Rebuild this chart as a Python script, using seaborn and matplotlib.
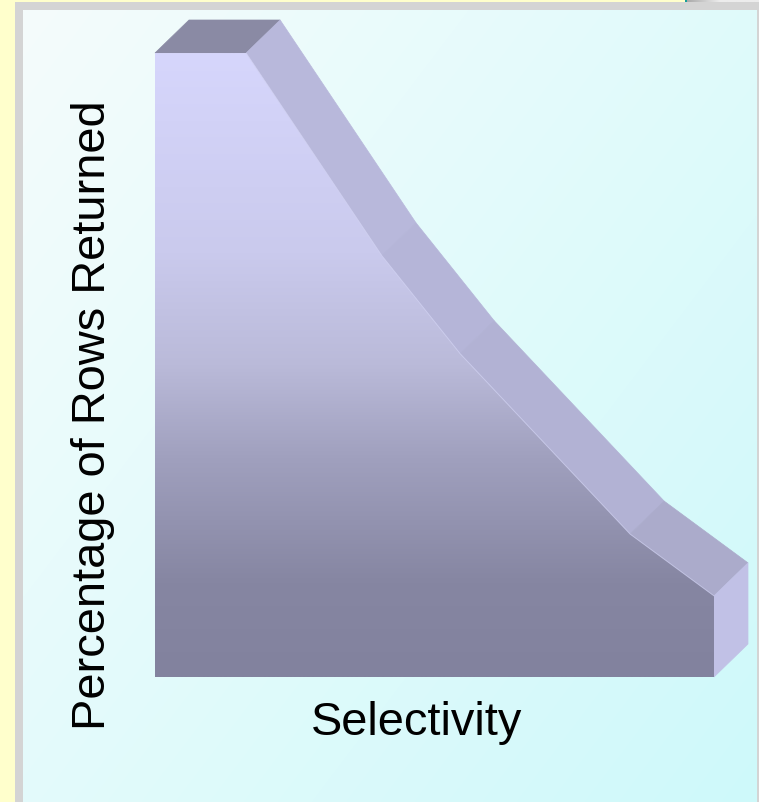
import numpy as np
import matplotlib
matplotlib.use("Agg")
import matplotlib.pyplot as plt
from matplotlib.patches import Polygon, Rectangle
from matplotlib.colors import LinearSegmentedColormap
import seaborn as sns

# Data: selectivity (x) vs. percentage of rows returned (y)
selectivity = [0, 16.3, 40.6, 54.6, 85.0, 100]
rows_returned = [100, 100, 67.5, 51.8, 22.9, 13.0]
x_label = "Selectivity"
y_label = "Percentage of Rows Returned"

W, H, DPI = 759, 803, 100
sns.set_theme(style="white")
plt.rcParams['font.family'] = ['Liberation Sans', 'DejaVu Sans']

fig = plt.figure(figsize=(W / DPI, H / DPI), dpi=DPI)
fig.patch.set_facecolor('#FFFFCC')

# ---- slide frame and panel background (pixel coordinates) ----
bg = fig.add_axes([0, 0, 1, 1], zorder=0)
bg.set_xlim(0, W)
bg.set_ylim(H, 0)
bg.axis('off')
bg.add_patch(Rectangle((15, 3), W - 15, H - 3, color='#D4D4D4', lw=0, zorder=1))
bg.add_patch(Rectangle((685, 0), 2, 3, color='#159C9C', lw=0, zorder=1))
strip = np.linspace(0, 1, 80)
s0 = np.array([170, 170, 170]) / 255
s1 = np.array([236, 236, 236]) / 255
strip_rgb = s0 + (s1 - s0) * np.clip(strip * 2.2, 0, 1)[:, None]
bg.imshow(strip_rgb[None, :, :], extent=(687, W, 3, 0), aspect='auto',
          interpolation='bilinear', zorder=2)

yy, xx = np.mgrid[0:1:300j, 0:1:300j]
t = np.clip(xx * 0.55 + yy * 0.45, 0, 1)
c0 = np.array([245, 252, 252]) / 255
c1 = np.array([206, 249, 250]) / 255
panel = c0 + (c1 - c0) * t[..., None]
bg.imshow(panel, extent=(23, 757, H, 11), aspect='auto', interpolation='bilinear', zorder=2)
bg.set_xlim(0, W)
bg.set_ylim(H, 0)

# ---- chart area ----
x0, x1, ytop, ybot = 155, 714, 54, 678
ax = fig.add_axes([x0 / W, 1 - ybot / H, (x1 - x0) / W, (ybot - ytop) / H], zorder=2)
ax.set_xlim(0, 100)
ax.set_ylim(0, 100)
ax.axis('off')

# extrusion depth (pixels right / up) expressed in data units
depth_px = np.array([34.0, 33.0])
origin = ax.transData.transform((0, 0))
ddx, ddy = ax.transData.inverted().transform(origin + depth_px)

xs = np.asarray(selectivity, float)
ys = np.asarray(rows_returned, float)

base = np.array([138, 138, 164]) / 255
lit = np.array([193, 193, 230]) / 255


def shade(dx_px, dy_px):
    ang = np.arctan2(abs(dy_px), abs(dx_px))
    return tuple(base + (lit - base) * np.sin(ang))


# sloped/top faces of each segment
pts_px = ax.transData.transform(np.column_stack([xs, ys]))
for i in range(len(xs) - 1):
    quad = [(xs[i], ys[i]), (xs[i + 1], ys[i + 1]),
            (xs[i + 1] + ddx, ys[i + 1] + ddy), (xs[i] + ddx, ys[i] + ddy)]
    d = pts_px[i + 1] - pts_px[i]
    ax.add_patch(Polygon(quad, closed=True, facecolor=shade(d[0], d[1]),
                         edgecolor=shade(d[0], d[1]), lw=0.5, clip_on=False, zorder=2))

# right end face
end = [(xs[-1], 0), (xs[-1], ys[-1]), (xs[-1] + ddx, ys[-1] + ddy), (xs[-1] + ddx, ddy)]
ax.add_patch(Polygon(end, closed=True, facecolor=shade(0, 1), edgecolor=shade(0, 1),
                     lw=0.5, clip_on=False, zorder=2))

# front face with vertical gradient
front_pts = [(xs[0], 0)] + list(zip(xs, ys)) + [(xs[-1], 0)]
front = Polygon(front_pts, closed=True, facecolor='none', edgecolor='none', transform=ax.transData)
ax.add_patch(front)
stops = [(0.0, (130, 130, 158)), (0.15, (134, 134, 162)), (0.35, (160, 160, 190)),
         (0.5, (186, 186, 217)), (0.68, (202, 202, 237)), (1.0, (214, 214, 252))]
cmap = LinearSegmentedColormap.from_list(
    "front", [(p, tuple(np.array(c) / 255)) for p, c in stops])
grad = np.linspace(0, 1, 256)[:, None]
im = ax.imshow(grad, cmap=cmap, extent=(0, 100, 0, 100), origin='lower',
               aspect='auto', interpolation='bilinear', zorder=3)
im.set_clip_path(front)

# front edge highlight
sns.lineplot(x=selectivity, y=rows_returned, ax=ax, color=(0.82, 0.82, 0.95),
             lw=0.7, alpha=0.7, zorder=4, sort=False)
ax.set_xlim(0, 100)
ax.set_ylim(0, 100)
ax.axis('off')

# axis titles
fig.text(93 / W, 1 - 415 / H, y_label, rotation=90, ha='center', va='center',
         fontsize=33.8, color='black')
fig.text(417 / W, 1 - 735 / H, x_label, ha='center', va='baseline',
         fontsize=33.8, color='black')

fig.savefig("out.png", dpi=DPI, facecolor=fig.get_facecolor())
